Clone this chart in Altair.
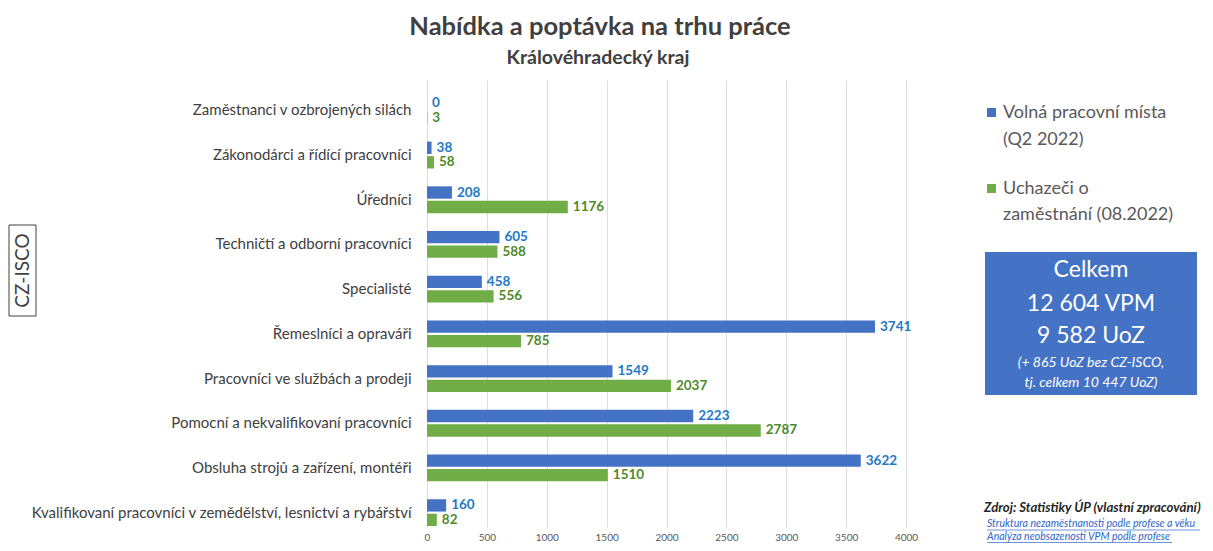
import altair as alt
import pandas as pd

categories = [
    "Zaměstnanci v ozbrojených silách",
    "Zákonodárci a řídící pracovníci",
    "Úředníci",
    "Techničtí a odborní pracovníci",
    "Specialisté",
    "Řemeslníci a opraváři",
    "Pracovníci ve službách a prodeji",
    "Pomocní a nekvalifikovaní pracovníci",
    "Obsluha strojů a zařízení, montéři",
    "Kvalifikovaní pracovníci v zemědělství, lesnictví a rybářství",
]
vpm = [0, 38, 208, 605, 458, 3741, 1549, 2223, 3622, 160]
uoz = [3, 58, 1176, 588, 556, 785, 2037, 2787, 1510, 82]
series = ["Volná pracovní místa (Q2 2022)", "Uchazeči o zaměstnání (08.2022)"]
x_ticks = [0, 500, 1000, 1500, 2000, 2500, 3000, 3500, 4000]

rows = []
for c, a, b in zip(categories, vpm, uoz):
    rows.append({"cat": c, "series": series[0], "value": a})
    rows.append({"cat": c, "series": series[1], "value": b})
df = pd.DataFrame(rows)

FONT = "Lato"
W, H = 479, 443
OX, OY = 427, 86  # page position of plot origin

bar_colors = ["#4472C4", "#70AD47"]
label_colors = ["#1F78C8", "#4F8A2A"]

y_enc = alt.Y("cat:N", sort=categories, title=None,
              scale=alt.Scale(paddingInner=0.4, paddingOuter=0.2, range=[2, 449]),
              axis=alt.Axis(labelFont=FONT, labelFontSize=15, labelColor="#404040",
                            labelLimit=600, labelPadding=16, ticks=False, domain=False, grid=False))
x_enc = alt.X("value:Q", title=None,
              scale=alt.Scale(domain=[0, 4000], nice=False),
              axis=alt.Axis(values=x_ticks, format="d", labelFont=FONT, labelFontSize=10,
                            labelColor="#595959", ticks=False, domain=False, grid=True,
                            gridColor="#DDDDDD", labelPadding=3, labelFlush=False))
yoff = alt.YOffset("series:N", sort=series, scale=alt.Scale(paddingInner=0.15))

bars = alt.Chart(df).mark_bar().encode(
    y=y_enc, x=x_enc, yOffset=yoff,
    color=alt.Color("series:N", sort=series,
                    scale=alt.Scale(domain=series, range=bar_colors), legend=None),
)
labels = alt.Chart(df).mark_text(align="left", baseline="middle", dx=5, font=FONT,
                                 fontSize=13.5, fontWeight="bold").encode(
    y=alt.Y("cat:N", sort=categories), x="value:Q", yOffset=yoff,
    text="value:Q",
    color=alt.Color("series:N", sort=series,
                    scale=alt.Scale(domain=series, range=label_colors), legend=None),
)

one = pd.DataFrame({"a": [0]})


def txt(s, px, py, size=13, color="#404040", weight="normal", style="normal", align="left", angle=0):
    kw = dict(align=align, baseline="middle", font=FONT, fontSize=size, color=color,
              fontWeight=weight, fontStyle=style)
    if angle:
        kw["angle"] = angle
    return alt.Chart(one).mark_text(**kw).encode(
        x=alt.value(px - OX), y=alt.value(py - OY), text=alt.value(s))


def rect(x1, y1, x2, y2, fill=None, stroke=None, sw=1):
    kw = {}
    if fill:
        kw["fill"] = fill
    else:
        kw["fillOpacity"] = 0
    if stroke:
        kw["stroke"] = stroke
        kw["strokeWidth"] = sw
    return alt.Chart(one).mark_rect(**kw).encode(
        x=alt.value(x1 - OX), x2=alt.value(x2 - OX), y=alt.value(y1 - OY), y2=alt.value(y2 - OY))


def rule(x1, x2, py, color):
    return alt.Chart(one).mark_rule(color=color, strokeWidth=0.7).encode(
        x=alt.value(x1 - OX), x2=alt.value(x2 - OX), y=alt.value(py - OY))


annots = [
    txt("Nabídka a poptávka na trhu práce", 600, 27, size=25.5, weight="bold", align="center"),
    txt("Královéhradecký kraj", 598, 58, size=19.5, weight="bold", align="center"),
    # legend
    rect(987, 108, 996, 117, fill=bar_colors[0]),
    txt("Volná pracovní místa", 1003, 113, size=18, color="#595959"),
    txt("(Q2 2022)", 1003, 140, size=18, color="#595959"),
    rect(987, 184, 996, 193, fill=bar_colors[1]),
    txt("Uchazeči o", 1003, 189, size=18, color="#595959"),
    txt("zaměstnání (08.2022)", 1003, 215, size=18, color="#595959"),
    # summary box
    rect(985, 252, 1197, 395, fill="#4472C4"),
    txt("Celkem", 1091, 270, size=23, color="white", align="center"),
    txt("12 604 VPM", 1091, 304, size=23, color="white", align="center"),
    txt("9 582 UoZ", 1091, 336, size=23, color="white", align="center"),
    txt("(+ 865 UoZ bez CZ-ISCO,", 1091, 363, size=14, color="white", style="italic", align="center"),
    txt("tj. celkem 10 447 UoZ)", 1091, 383, size=14, color="white", style="italic", align="center"),
    # CZ-ISCO
    rect(9, 225, 36, 316, stroke="#404040", sw=1),
    txt("CZ-ISCO", 22.5, 270.5, size=19, color="#404040", align="center", angle=270),
    # source
    txt("Zdroj: Statistiky ÚP (vlastní zpracování)", 984, 508, size=13.2, weight="bold",
        style="italic", color="#262626"),
    txt("Struktura nezaměstnanosti podle profese a věku", 987, 524, size=10.5, style="italic",
        color="#2E64C8"),
    rule(987, 1200, 530, "#2E64C8"),
    txt("Analýza neobsazenosti VPM podle profese", 987, 537, size=10.5, style="italic",
        color="#2E64C8"),
    rule(987, 1172, 542.5, "#2E64C8"),
]

chart = alt.layer(bars, labels, *annots).resolve_scale(color="independent").properties(
    width=W, height=H,
    autosize=alt.AutoSizeParams(type="none"),
    padding={"left": OX - 8, "top": OY - 8, "right": 1213 - 16 - (OX - 8) - W,
             "bottom": 551 - 16 - (OY - 8) - H},
    background="white",
).configure_view(stroke=None)

chart.save("out.html", embed_options={"renderer": "svg", "actions": False})
